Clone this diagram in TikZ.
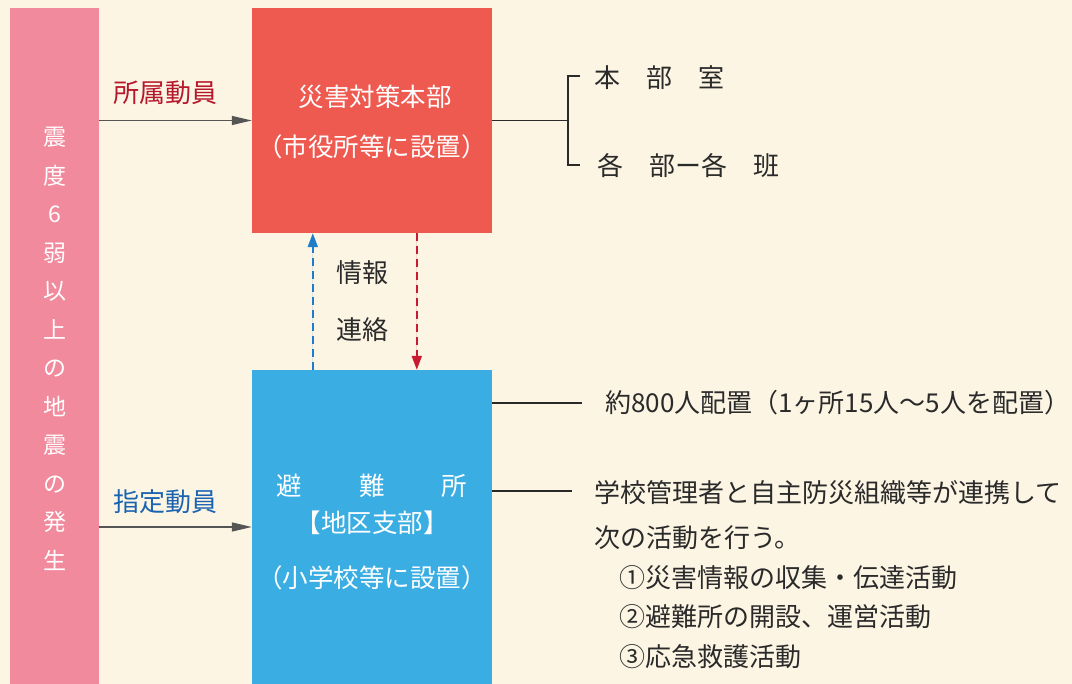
\documentclass[tikz,border=0pt]{standalone}
\usepackage{fontspec}
\setmainfont{Noto Sans CJK JP}
\usetikzlibrary{arrows.meta,calc}
\definecolor{bgc}{HTML}{FCF5E4}
\definecolor{pinkc}{HTML}{F08A9C}
\definecolor{redc}{HTML}{EE5A50}
\definecolor{bluec}{HTML}{3AAEE3}
\definecolor{lblred}{HTML}{B5172B}
\definecolor{lblblue}{HTML}{1A63B0}
\definecolor{dashblue}{HTML}{1F7CCB}
\definecolor{dashred}{HTML}{C81A30}
\definecolor{inkc}{HTML}{2A2A2A}
\definecolor{arrowc}{HTML}{555555}
\begin{document}
\begin{tikzpicture}[x=1pt,y=-1pt,
  boxst/.style={inner sep=0pt, minimum width=240pt},
  wtxt/.style={text=white, inner sep=0pt, font=\fontsize{25.5}{28}\selectfont},
  btxt/.style={text=inkc, inner sep=0pt, font=\fontsize{26}{28}\selectfont},
  rtxt/.style={btxt, anchor=west},
  mobil/.style={draw=arrowc, line width=1.3pt, -{Triangle[length=20pt,width=9pt,fill=arrowc]}},
  dashar/.style={line width=2pt, dash pattern=on 8pt off 5pt, -{Triangle[length=14pt,width=10pt]}},
  leader/.style={draw=inkc, line width=1.4pt}
]
\fill[bgc] (0,0) rectangle (1072,684);
\useasboundingbox (0,0) rectangle (1072,684);

% left bar
\node[fill=pinkc, inner sep=0pt, minimum width=89pt, minimum height=676pt] (pink) at (54.5,346) {};
\node[text=white, inner sep=0pt, align=center, font=\fontsize{23}{38.5}\selectfont] (pinktxt) at (55,349)
  {震\\度\\6\\弱\\以\\上\\の\\地\\震\\の\\発\\生};

% headquarters box
\node[boxst, fill=redc, minimum height=225pt] (hq) at (372,120.5) {};
\node[wtxt] (hq1) at (375,97) {災害対策本部};
\node[wtxt] (hq2) at (372,147) {（市役所等に設置）};

% shelter box
\node[boxst, fill=bluec, minimum height=314pt] (sh) at (372,527) {};
\node[wtxt] (sh1) at (372,486) {避\hspace{57pt}難\hspace{57pt}所};
\node[wtxt] (sh2) at (372,523) {【地区支部】};
\node[wtxt] (sh3) at (372,578) {（小学校等に設置）};

% mobilisation arrows
\node[btxt, text=lblred] (lb1) at (165,93) {所属動員};
\node[btxt, text=lblblue] (lb2) at (165,502) {指定動員};
\draw[mobil] (pink.east |- hq.west) -- (hq.west);
\draw[mobil] (pink.east |- sh.west) -- (sh.west);

% information exchange
\draw[dashar, draw=dashblue, fill=dashblue] ([xshift=61pt]sh.north west) -- ([xshift=61pt]hq.south west);
\draw[dashar, draw=dashred, fill=dashred] ([xshift=165pt]hq.south west) -- ([xshift=165pt]sh.north west);
\node[btxt] (info1) at (362,273) {情報};
\node[btxt] (info2) at (362,330) {連絡};

% HQ subdivisions
\node[rtxt] (sub1) at (594,78) {本　部　室};
\node[rtxt] (sub2) at (597,166) {各　部ー各　班};
\coordinate (br) at (568,120.5);
\coordinate (bt) at (568,76);
\coordinate (bb) at (568,165);
\coordinate (t1) at (580,76);
\coordinate (t2) at (580,165);
\draw[leader] (hq.east) -- (br);
\draw[leader] (t1) -- (bt) -- (bb) -- (t2);

% shelter notes
\node[rtxt] (n1) at (605,403) {約800人配置（1ヶ所15人～5人を配置）};
\coordinate (l1) at (582,403);
\draw[leader] (sh.east |- l1) -- (l1);
\node[rtxt] (n2) at (594,493) {学校管理者と自主防災組織等が連携して};
\coordinate (l2) at (572,491);
\draw[leader] (sh.east |- l2) -- (l2);
\node[rtxt] (n3) at (594,538) {次の活動を行う。};
\node[rtxt] (n4) at (619,578) {①災害情報の収集・伝達活動};
\node[rtxt] (n5) at (619,617) {②避難所の開設、運営活動};
\node[rtxt] (n6) at (619,657) {③応急救護活動};
\end{tikzpicture}
\end{document}
